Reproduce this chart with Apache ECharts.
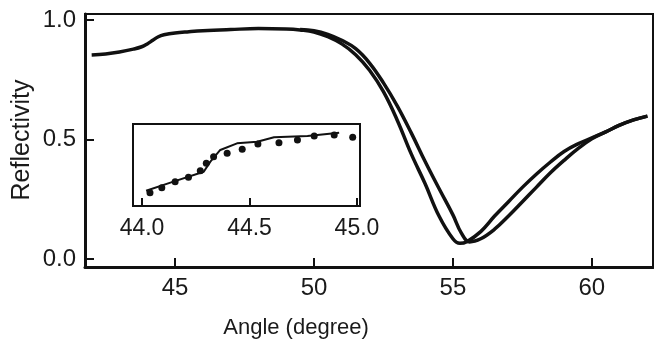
<!DOCTYPE html>
<html>
<head>
<meta charset="utf-8">
<script src="https://cdn.jsdelivr.net/npm/echarts@6/dist/echarts.min.js"></script>
<style>html,body{margin:0;padding:0;background:#fff;}#c{width:654px;height:341px;}</style>
</head>
<body>
<div id="c"></div>
<script>
// Main curve A (measured, left curve)
var curveA_x = [42.0, 42.5, 43.0, 43.5, 43.8, 44.0, 44.2, 44.4, 44.6, 45.0, 45.5, 46.0, 47.0, 48.0, 49.0, 49.5, 50.0, 50.5, 51.0, 51.5, 52.0, 52.5, 53.0, 53.5, 54.0, 54.5, 55.0, 55.25, 55.5, 56.0, 56.5, 57.0, 57.5, 58.0, 58.5, 59.0, 59.5, 60.0, 60.5, 61.0, 61.5, 62.0];
var curveA_y = [0.854, 0.858, 0.866, 0.878, 0.888, 0.900, 0.915, 0.930, 0.938, 0.946, 0.951, 0.955, 0.960, 0.964, 0.962, 0.958, 0.950, 0.930, 0.900, 0.855, 0.790, 0.700, 0.580, 0.440, 0.315, 0.180, 0.085, 0.066, 0.073, 0.115, 0.180, 0.240, 0.300, 0.355, 0.405, 0.450, 0.482, 0.507, 0.532, 0.560, 0.582, 0.598];
// Main curve B (measured, right curve)
var curveB_x = [49.5, 50.0, 50.5, 51.0, 51.5, 52.0, 52.5, 53.0, 53.5, 54.0, 54.5, 55.0, 55.3, 55.6, 56.0, 56.5, 57.0, 57.5, 58.0, 58.5, 59.0, 59.5, 60.0, 60.5, 61.0, 61.5, 62.0];
var curveB_y = [0.960, 0.955, 0.940, 0.915, 0.880, 0.820, 0.737, 0.640, 0.528, 0.408, 0.295, 0.185, 0.110, 0.072, 0.085, 0.125, 0.180, 0.240, 0.300, 0.360, 0.413, 0.462, 0.503, 0.532, 0.560, 0.582, 0.598];
// Inset: fitted line and measured dots
var insetLine_x = [44.019, 44.146, 44.287, 44.318, 44.364, 44.442, 44.536, 44.614, 44.770, 44.917];
var insetLine_y = [0.8724, 0.8856, 0.9002, 0.9149, 0.932, 0.9417, 0.9441, 0.9505, 0.9524, 0.9573];
var insetDots_x = [44.037, 44.092, 44.154, 44.216, 44.271, 44.299, 44.333, 44.396, 44.466, 44.539, 44.637, 44.723, 44.801, 44.894, 44.980];
var insetDots_y = [0.8695, 0.8768, 0.8856, 0.892, 0.9017, 0.9125, 0.9222, 0.9271, 0.9329, 0.9407, 0.9427, 0.9466, 0.9524, 0.9539, 0.9505];
// Tick labels
var mainXTicks = [45, 50, 55, 60];
var mainYTicks = [0, 0.5, 1.0];
var insetXTicks = [44.0, 44.5, 45.0];

function zip(xs, ys){ return xs.map(function(x,i){ return [x, ys[i]]; }); }

var FONT = '"Liberation Sans", Arial, sans-serif';
var chart = echarts.init(document.getElementById('c'), null, {renderer:'canvas'});
chart.setOption({
  animation: false,
  backgroundColor: '#fff',
  grid: [
    {left: 85, top: 14, width: 568, height: 253, show: true, borderColor: '#111', borderWidth: 2, backgroundColor: 'transparent'},
    {left: 133, top: 124, width: 227, height: 82, show: true, borderColor: '#111', borderWidth: 2, backgroundColor: '#fff', z: 5}
  ],
  xAxis: [
    {gridIndex: 0, type: 'value', min: 41.76, max: 62.2,
     axisLine: {show: true, onZero: false, lineStyle: {color: '#111', width: 3}},
     axisTick: {show: true, inside: true, length: 9, lineStyle: {color: '#111', width: 2}, customValues: mainXTicks},
     axisLabel: {color: '#1a1a1a', fontSize: 24, fontFamily: FONT, margin: 9, customValues: mainXTicks, formatter: function(v){ return String(Math.round(v)); }},
     splitLine: {show: false}},
    {gridIndex: 1, type: 'value', min: 43.958, max: 45.014,
     axisLine: {show: true, onZero: false, lineStyle: {color: '#111', width: 2}},
     axisTick: {show: true, inside: true, length: 8, lineStyle: {color: '#111', width: 2}, customValues: insetXTicks},
     axisLabel: {color: '#1a1a1a', fontSize: 23, fontFamily: FONT, margin: 11, customValues: insetXTicks, formatter: function(v){ return v.toFixed(1); }},
     splitLine: {show: false}, z: 6}
  ],
  yAxis: [
    {gridIndex: 0, type: 'value', min: -0.033, max: 1.025,
     axisLine: {show: true, onZero: false, lineStyle: {color: '#111', width: 3}},
     axisTick: {show: true, inside: true, length: 9, lineStyle: {color: '#111', width: 2}, customValues: mainYTicks},
     axisLabel: {color: '#1a1a1a', fontSize: 24, fontFamily: FONT, margin: 9, customValues: mainYTicks, formatter: function(v){ return v.toFixed(1); }},
     splitLine: {show: false}},
    {gridIndex: 1, type: 'value', min: 0.85, max: 0.97,
     axisLine: {show: true, onZero: false, lineStyle: {color: '#111', width: 2}},
     axisTick: {show: false}, axisLabel: {show: false}, splitLine: {show: false}, z: 6}
  ],
  graphic: [
    {type: 'text', x: 296, y: 328, style: {text: 'Angle (degree)', fontSize: 22, fontFamily: FONT, fill: '#1a1a1a', textAlign: 'center', textVerticalAlign: 'middle'}},
    {type: 'text', x: 22, y: 140, rotation: Math.PI/2, style: {text: 'Reflectivity', fontSize: 25, fontFamily: FONT, fill: '#1a1a1a', textAlign: 'center', textVerticalAlign: 'middle'}}
  ],
  series: [
    {type: 'line', xAxisIndex: 0, yAxisIndex: 0, data: zip(curveA_x, curveA_y), smooth: 0.4, showSymbol: false, lineStyle: {color: '#111', width: 3.5}, z: 2},
    {type: 'line', xAxisIndex: 0, yAxisIndex: 0, data: zip(curveB_x, curveB_y), smooth: 0.4, showSymbol: false, lineStyle: {color: '#111', width: 3.5}, z: 2},
    {type: 'line', xAxisIndex: 1, yAxisIndex: 1, data: zip(insetLine_x, insetLine_y), smooth: false, showSymbol: false, lineStyle: {color: '#111', width: 2}, z: 7},
    {type: 'scatter', xAxisIndex: 1, yAxisIndex: 1, data: zip(insetDots_x, insetDots_y), symbol: 'circle', symbolSize: 7, itemStyle: {color: '#111', opacity: 1}, z: 7}
  ]
});
</script>
</body>
</html>
